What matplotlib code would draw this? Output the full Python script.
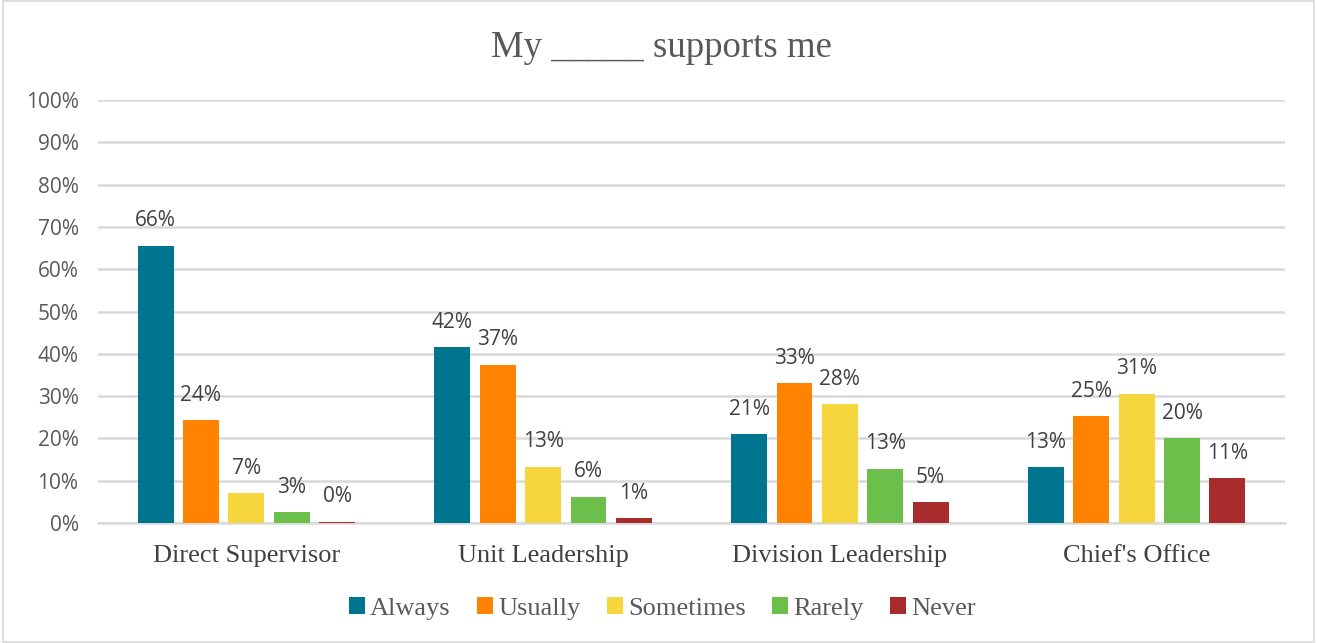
import matplotlib
matplotlib.use("Agg")
import matplotlib.pyplot as plt
import numpy as np
from matplotlib.patches import Rectangle

categories = ["Direct Supervisor", "Unit Leadership", "Division Leadership", "Chief's Office"]
series = ["Always", "Usually", "Sometimes", "Rarely", "Never"]
always = [65.6, 41.6, 21.0, 13.2]
usually = [24.3, 37.4, 33.1, 25.3]
sometimes = [7.1, 13.3, 28.1, 30.6]
rarely = [2.6, 6.2, 12.8, 20.0]
never = [0.3, 1.2, 4.9, 10.6]
labels = [["66%", "42%", "21%", "13%"],
          ["24%", "37%", "33%", "25%"],
          ["7%", "13%", "28%", "31%"],
          ["3%", "6%", "13%", "20%"],
          ["0%", "1%", "5%", "11%"]]
colors = ["#00758F", "#FF8200", "#F5D73D", "#6BBF4A", "#A82C2C"]
yticks = list(range(0, 101, 10))

data = [always, usually, sometimes, rarely, never]

fig = plt.figure(figsize=(13.17, 6.43), dpi=100)
fig.patch.set_facecolor("white")
fig.add_artist(Rectangle((0.002, 0.002), 0.996, 0.996, transform=fig.transFigure,
                         fill=False, edgecolor="#D9D9D9", linewidth=1.2))
ax = fig.add_axes([0.0744, 0.1866, 0.9013, 0.6579])

x = np.arange(len(categories))
width = 0.121
step = 0.153
for i, (vals, c) in enumerate(zip(data, colors)):
    pos = x + (i - 2) * step
    bars = ax.bar(pos, vals, width=width, color=c, zorder=3, label=series[i])
    for b, v, lab in zip(bars, vals, labels[i]):
        ax.text(b.get_x() + b.get_width() / 2, v + 3.4, lab, ha="center", va="bottom",
                fontsize=15, color="#404040", family="Open Sans", zorder=4)

ax.set_xlim(-0.5, len(categories) - 0.5)
ax.set_ylim(0, 100)
ax.set_yticks(yticks)
ax.set_yticklabels([f"{t}%" for t in yticks], family="Open Sans", fontsize=15, color="#595959")
ax.set_xticks(x)
ax.set_xticklabels(categories, family="Liberation Serif", fontsize=19, color="#404040")
ax.tick_params(axis="both", length=0)
ax.tick_params(axis="x", pad=16)
ax.tick_params(axis="y", pad=14)
ax.grid(axis="y", color="#D9D9D9", linewidth=1.8, zorder=0)
for s in ["top", "right", "left"]:
    ax.spines[s].set_visible(False)
ax.spines["bottom"].set_color("#D9D9D9")
ax.spines["bottom"].set_linewidth(1.8)

fig.text(0.502, 0.925, "My _____ supports me", ha="center", va="center",
         family="Liberation Serif", fontsize=26.5, color="#595959")

leg = fig.legend(loc="center", bbox_to_anchor=(0.503, 0.054), ncol=5, frameon=False,
                 prop={"family": "Liberation Serif", "size": 19},
                 handlelength=0.6, handleheight=0.6, handletextpad=0.2, columnspacing=1.0)
for t in leg.get_texts():
    t.set_color("#595959")

fig.savefig("out.png", dpi=100, facecolor="white")
